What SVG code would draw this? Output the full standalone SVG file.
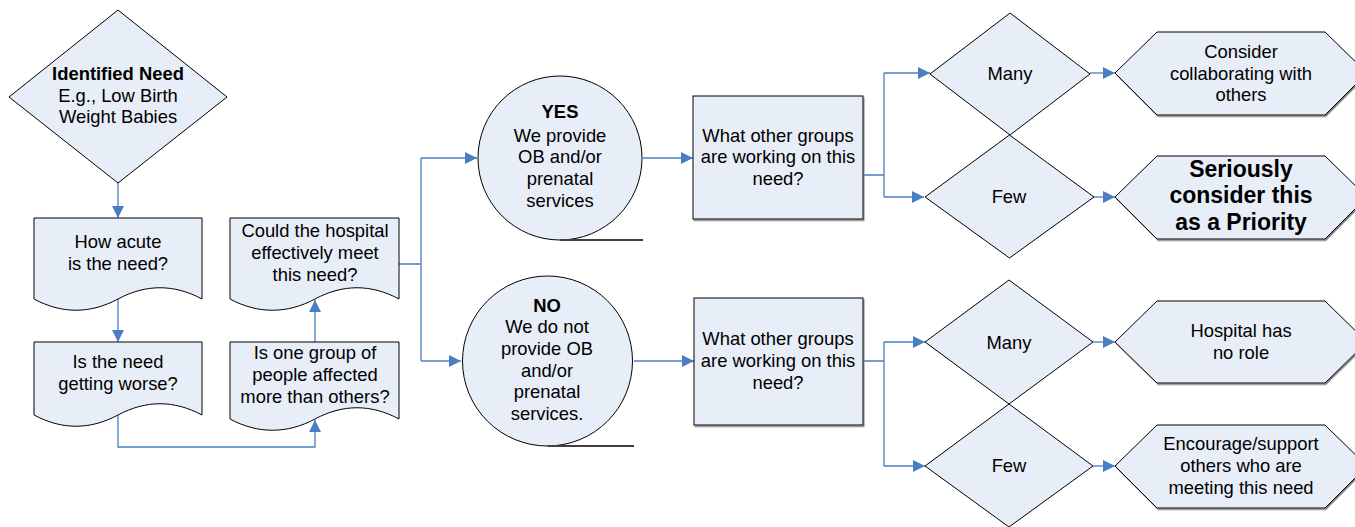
<svg xmlns="http://www.w3.org/2000/svg" width="1355" height="527" viewBox="0 0 1355 527">
<defs>
<marker id="arr" markerUnits="userSpaceOnUse" markerWidth="12" markerHeight="12" refX="12" refY="6" orient="auto">
<path d="M0,0 L12,6 L0,12 z" fill="#4A7EC4"/>
</marker>
<filter id="sh" x="-5%" y="-5%" width="110%" height="115%">
<feDropShadow dx="1" dy="1.5" stdDeviation="0" flood-color="#808080"/>
</filter>
</defs>
<style>
.s{fill:#E8EEF7;stroke:#000;stroke-width:1}
.c{fill:none;stroke:#4A7EC4;stroke-width:1.3}
.a{marker-end:url(#arr)}
text{font-family:"Liberation Sans",Arial,sans-serif;font-size:18.4px;fill:#000;text-anchor:middle}
.b{font-weight:bold}
.big{font-weight:bold;font-size:23px}
.tape{stroke:#404040;stroke-width:2;fill:none}
</style>
<rect width="1355" height="527" fill="#fff"/>

<g id="connectors">
<path class="c a" d="M118,183 V218"/>
<path class="c a" d="M118,299 V342"/>
<path class="c a" d="M118,415 V447 H315 V420"/>
<path class="c a" d="M315,342 V300"/>
<path class="c" d="M399,264 H421 M421,158 V361"/>
<path class="c a" d="M421,158 H477"/>
<path class="c a" d="M421,361 H461"/>
<path class="c a" d="M643,158 H693"/>
<path class="c a" d="M634,361 H694"/>
<path class="c" d="M863,158 V175 H884 M884,73 V197"/>
<path class="c a" d="M884,73 H930"/>
<path class="c a" d="M884,197 H924"/>
<path class="c" d="M863,361 H884 M884,342 V466"/>
<path class="c a" d="M884,342 H925"/>
<path class="c a" d="M884,466 H925"/>
<path class="c a" d="M1090,73 H1115"/>
<path class="c a" d="M1094,197 H1115"/>
<path class="c a" d="M1093,342 H1115"/>
<path class="c a" d="M1093,466 H1115"/>
</g>

<g id="identified-need">
<polygon class="s" points="118,10 227,97 118,183 9,97"/>
<text class="b" x="118" y="80">Identified Need</text>
<text x="118" y="102">E.g., Low Birth</text>
<text x="118" y="123">Weight Babies</text>
</g>

<g id="how-acute">
<path class="s" d="M34,218 H202 V299 C174,284 146,284 118,299 C90,314 62,314 34,299 Z"/>
<text x="118" y="248">How acute</text>
<text x="118" y="270">is the need?</text>
</g>

<g id="getting-worse">
<path class="s" d="M34,342 H202 V415 C174,400 146,400 118,415 C90,430 62,430 34,415 Z"/>
<text x="118" y="368">Is the need</text>
<text x="118" y="390">getting worse?</text>
</g>

<g id="could-hospital">
<path class="s" d="M230,218 H399 V299 C371,284 343,284 315,299 C287,314 258,314 230,299 Z"/>
<text x="315" y="237">Could the hospital</text>
<text x="315" y="259">effectively meet</text>
<text x="315" y="281">this need?</text>
</g>

<g id="one-group">
<path class="s" d="M230,342 H399 V419 C371,404 343,404 315,419 C287,434 258,434 230,419 Z"/>
<text x="315" y="359">Is one group of</text>
<text x="315" y="381">people affected</text>
<text x="315" y="403">more than others?</text>
</g>

<g id="yes">
<circle class="s" cx="560" cy="158" r="82"/>
<line class="tape" x1="560" y1="240" x2="643" y2="240"/>
<text class="b" x="560" y="118">YES</text>
<text x="560" y="142">We provide</text>
<text x="560" y="163">OB and/or</text>
<text x="560" y="185">prenatal</text>
<text x="560" y="207">services</text>
</g>

<g id="no">
<circle class="s" cx="547.5" cy="361" r="85"/>
<line class="tape" x1="547.5" y1="446" x2="634" y2="446"/>
<text class="b" x="547" y="312">NO</text>
<text x="547" y="333">We do not</text>
<text x="547" y="355">provide OB</text>
<text x="547" y="377">and/or</text>
<text x="547" y="398">prenatal</text>
<text x="547" y="420">services.</text>
</g>

<g id="groups-yes">
<rect class="s" filter="url(#sh)" x="693" y="96" width="170" height="123"/>
<text x="778" y="142">What other groups</text>
<text x="778" y="163">are working on this</text>
<text x="778" y="185">need?</text>
</g>

<g id="groups-no">
<rect class="s" filter="url(#sh)" x="694" y="298" width="169" height="127"/>
<text x="778" y="345">What other groups</text>
<text x="778" y="367">are working on this</text>
<text x="778" y="389">need?</text>
</g>

<g id="many-yes">
<polygon class="s" points="1010,13 1090,74 1010,135 930,74"/>
<text x="1010" y="80">Many</text>
</g>

<g id="few-yes">
<polygon class="s" points="1009.5,135 1094,197 1009.5,258 925,197"/>
<text x="1009" y="203">Few</text>
</g>

<g id="many-no">
<polygon class="s" points="1009,280 1093,342 1009,404 925,342"/>
<text x="1009" y="349">Many</text>
</g>

<g id="few-no">
<polygon class="s" points="1009,404 1093,466 1009,527 925,466"/>
<text x="1009" y="472">Few</text>
</g>

<g id="collaborate">
<polygon class="s" filter="url(#sh)" points="1115,73 1157,32 1325,32 1367,73 1325,115 1157,115"/>
<text x="1241" y="58">Consider</text>
<text x="1241" y="80">collaborating with</text>
<text x="1241" y="101">others</text>
</g>

<g id="priority">
<polygon class="s" filter="url(#sh)" points="1115,197 1157,156 1325,156 1367,197 1325,239 1157,239"/>
<text class="big" x="1241" y="177">Seriously</text>
<text class="big" x="1241" y="203">consider this</text>
<text class="big" x="1241" y="230">as a Priority</text>
</g>

<g id="no-role">
<polygon class="s" filter="url(#sh)" points="1115,342 1157,301 1325,301 1367,342 1325,383 1157,383"/>
<text x="1241" y="337">Hospital has</text>
<text x="1241" y="359">no role</text>
</g>

<g id="encourage">
<polygon class="s" filter="url(#sh)" points="1115,466 1157,425 1325,425 1367,466 1325,508 1157,508"/>
<text x="1241" y="450">Encourage/support</text>
<text x="1241" y="472">others who are</text>
<text x="1241" y="494">meeting this need</text>
</g>
</svg>
